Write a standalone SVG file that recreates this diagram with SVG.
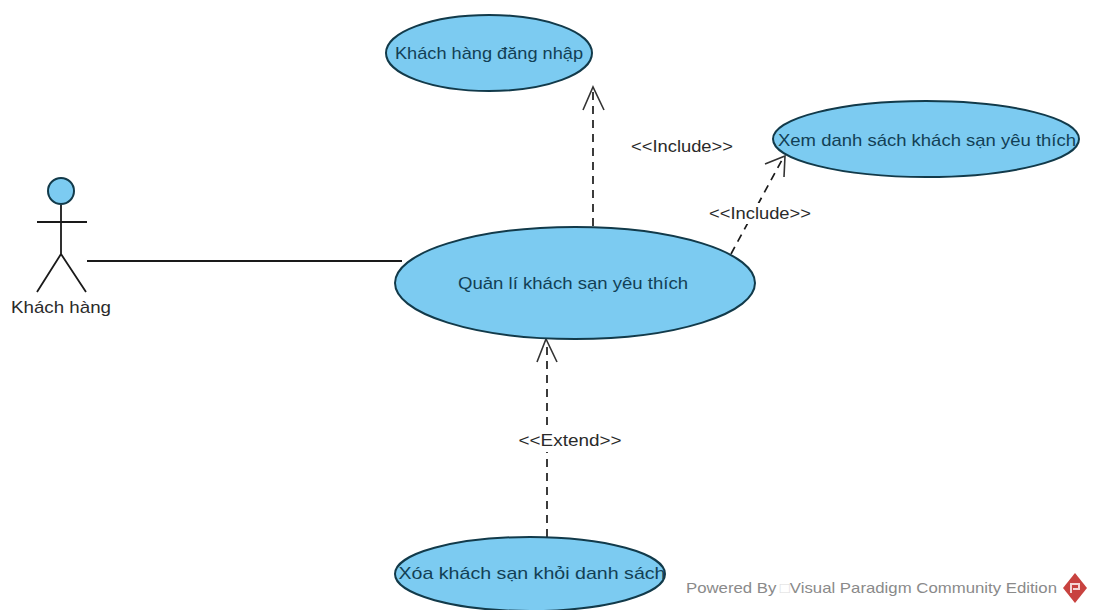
<svg xmlns="http://www.w3.org/2000/svg" width="1093" height="610" viewBox="0 0 1093 610">
<style>
.uc{fill:#7ccbf1;stroke:#123a4a;stroke-width:2}
.t{font-family:"Liberation Sans",Arial,sans-serif;font-size:17px;fill:#2a2a2a;text-anchor:middle}
.n{fill:#123f55}
.l{fill:none;stroke:#1a1a1a;stroke-width:1.8}
.d{fill:none;stroke:#1a1a1a;stroke-width:1.7;stroke-dasharray:8 6}
.a{fill:none;stroke:#333;stroke-width:1.6}
</style>
<rect width="1093" height="610" fill="#fff"/>
<g id="connectors">
<path class="l" d="M87 261H402"/>
<path class="d" d="M593 226V88"/>
<path class="a" d="M583 110L593 87L604 110"/>
<path class="d" d="M731 254L783 158"/>
<path class="a" d="M765 164L785 156L784 177"/>
<path class="d" d="M547 537V341"/>
<path class="a" d="M537 362L546 339L557 362"/>
</g>
<g id="actor">
<circle cx="61" cy="191" r="13" class="uc"/>
<path class="l" d="M61 205V254M37 222H87M61 254L37 292M61 254L86 292"/>
<text class="t" x="61" y="313" textLength="100" lengthAdjust="spacingAndGlyphs">Khách hàng</text>
</g>
<g id="uc-login">
<ellipse cx="489" cy="53" rx="103" ry="38" class="uc"/>
<text class="t n" x="489" y="59" textLength="188" lengthAdjust="spacingAndGlyphs">Khách hàng đăng nhập</text>
</g>
<g id="uc-view">
<ellipse cx="926" cy="139" rx="153" ry="38" class="uc"/>
<text class="t n" x="927" y="146" textLength="298" lengthAdjust="spacingAndGlyphs">Xem danh sách khách sạn yêu thích</text>
</g>
<g id="uc-manage">
<ellipse cx="575" cy="283" rx="180" ry="56" class="uc"/>
<text class="t n" x="573" y="289" textLength="230" lengthAdjust="spacingAndGlyphs">Quản lí khách sạn yêu thích</text>
</g>
<g id="uc-remove">
<ellipse cx="530" cy="574" rx="135" ry="37" class="uc"/>
<text class="t n" x="532" y="579" textLength="267" lengthAdjust="spacingAndGlyphs">Xóa khách sạn khỏi danh sách</text>
</g>
<g id="labels">
<text class="t" x="682" y="152" textLength="102" lengthAdjust="spacingAndGlyphs">&lt;&lt;Include&gt;&gt;</text>
<rect x="708" y="203" width="104" height="21" fill="#fff"/>
<text class="t" x="760" y="219" textLength="102" lengthAdjust="spacingAndGlyphs">&lt;&lt;Include&gt;&gt;</text>
<rect x="518" y="431" width="105" height="21" fill="#fff"/>
<text class="t" x="570" y="446" textLength="103" lengthAdjust="spacingAndGlyphs">&lt;&lt;Extend&gt;&gt;</text>
</g>
<g id="watermark">
<text x="686" y="593" font-family="Liberation Sans,Arial,sans-serif" font-size="15" fill="#8a8a8a" textLength="371" lengthAdjust="spacingAndGlyphs">Powered By<tspan dx="3" fill="#ddd">□</tspan>Visual Paradigm Community Edition</text>
<path d="M1075 573L1087 588L1075 603L1063 588Z" fill="#c8423f"/>
<path d="M1071 593V584h8v5h-6" fill="none" stroke="#f4d6d4" stroke-width="2"/>
</g>
</svg>
